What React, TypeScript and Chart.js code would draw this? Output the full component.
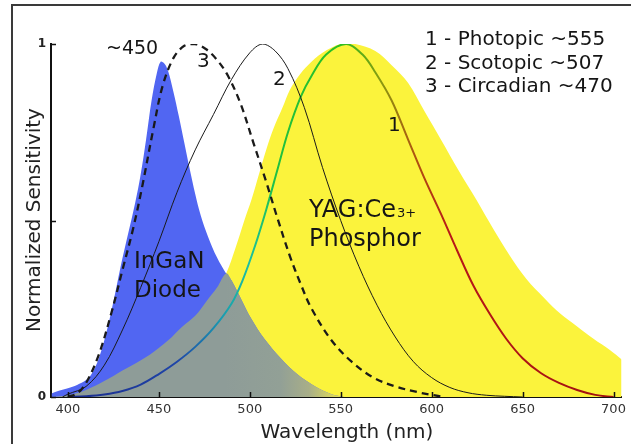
import React, { useEffect, useRef } from 'react';
import { Chart, registerables } from 'chart.js';

Chart.register(...registerables);

const FONT = "'DejaVu Sans', Verdana, sans-serif";

// axis ticks
const xTickValues = [400, 450, 500, 550, 600, 650, 700];
const yTickValues = [0, 0.5, 1];
const yTickLabels = ['0', '', '1'];

// YAG:Ce phosphor emission (yellow area)
const phosphorNm = [391, 400, 410, 420, 430, 445, 455, 463, 470, 476, 482, 487, 492, 497, 501, 505, 509, 513, 518, 522, 527, 532, 540, 550, 558, 569, 578, 587, 596, 605, 615, 625, 634, 643, 652, 662, 671, 680, 689, 698, 706];
const phosphorVal = [0.0, 0.005, 0.02, 0.045, 0.075, 0.12, 0.16, 0.2, 0.23, 0.27, 0.31, 0.35, 0.42, 0.5, 0.56, 0.63, 0.7, 0.76, 0.82, 0.87, 0.91, 0.94, 0.975, 1.0, 1.0, 0.98, 0.94, 0.89, 0.81, 0.73, 0.64, 0.555, 0.475, 0.4, 0.335, 0.28, 0.235, 0.2, 0.165, 0.133, 0.1];

// InGaN diode emission (blue area)
const diodeNm = [391, 395, 400, 405, 410, 413, 417, 421, 425, 429, 433, 437, 440, 443, 446, 449, 451, 453, 455, 458, 461, 464, 467, 470, 473, 477, 482, 487, 490, 495, 501, 508, 517, 526, 536, 545, 552];
const diodeVal = [0.01, 0.018, 0.025, 0.034, 0.048, 0.065, 0.11, 0.18, 0.27, 0.37, 0.46, 0.55, 0.63, 0.73, 0.84, 0.92, 0.95, 0.945, 0.925, 0.865, 0.795, 0.72, 0.645, 0.575, 0.515, 0.455, 0.395, 0.35, 0.33, 0.28, 0.22, 0.165, 0.11, 0.065, 0.03, 0.008, 0.0];

// overlap of diode and phosphor (grey area)
const overlapNm = [391, 400, 410, 420, 430, 445, 455, 463, 470, 476, 482, 487, 490, 495, 501, 508, 517, 526, 536, 545, 552];
const overlapVal = [0.0, 0.005, 0.02, 0.045, 0.075, 0.12, 0.16, 0.2, 0.23, 0.27, 0.31, 0.35, 0.33, 0.28, 0.22, 0.165, 0.11, 0.065, 0.03, 0.008, 0.0];

// 1 - Photopic
const photopicNm = [400, 410, 420, 430, 440, 450, 460, 470, 480, 490, 496, 503, 509, 515, 521, 528, 534, 542, 553, 562, 569, 578, 587, 596, 605, 614, 623, 632, 641, 650, 660, 670, 680, 690, 700];
const photopicVal = [0.0, 0.002, 0.007, 0.017, 0.035, 0.065, 0.1, 0.142, 0.195, 0.265, 0.33, 0.43, 0.53, 0.64, 0.75, 0.85, 0.91, 0.97, 1.0, 0.97, 0.92, 0.84, 0.73, 0.62, 0.52, 0.415, 0.315, 0.235, 0.165, 0.11, 0.068, 0.04, 0.02, 0.006, 0.0];

// 2 - Scotopic
const scotopicNm = [397, 400, 410, 420, 430, 440, 450, 460, 470, 480, 490, 500, 507, 514, 521, 530, 540, 550, 560, 570, 580, 590, 600, 610, 620, 630, 640, 650];
const scotopicVal = [0.0, 0.008, 0.03, 0.09, 0.19, 0.31, 0.44, 0.58, 0.7, 0.8, 0.9, 0.975, 1.0, 0.98, 0.93, 0.82, 0.65, 0.5, 0.37, 0.26, 0.17, 0.1, 0.055, 0.027, 0.012, 0.005, 0.002, 0.0];

// 3 - Circadian
const circadianNm = [400, 405, 410, 417, 424, 430, 436, 441, 447, 452, 458, 464, 470, 476, 482, 488, 495, 502, 509, 515, 522, 528, 534, 545, 556, 568, 580, 592, 600, 607];
const circadianVal = [0.0, 0.01, 0.04, 0.12, 0.24, 0.36, 0.48, 0.6, 0.76, 0.88, 0.96, 0.995, 1.0, 0.985, 0.955, 0.91, 0.83, 0.72, 0.61, 0.51, 0.4, 0.32, 0.25, 0.16, 0.1, 0.055, 0.03, 0.014, 0.006, 0.0];

// spectral colour stops of photopic curve (nm, colour)
const photopicStopNm = [400, 460, 485, 500, 515, 550, 572, 592, 610, 700];
const photopicStopColor = ['#1b2a8a', '#1f45a8', '#1a9cb0', '#1cc0a0', '#20c040', '#2cc020', '#8a9a10', '#b05010', '#b81818', '#a01010'];

const legendLines = ['1 - Photopic ~555', '2 - Scotopic ~507', '3 - Circadian ~470'];

const pts = (xs: number[], ys: number[]) => xs.map((x, i) => ({ x, y: ys[i] }));

const framePlugin = {
  id: 'frameAndText',
  beforeDraw(chart: any) {
    const ctx = chart.ctx;
    ctx.save();
    ctx.fillStyle = '#ffffff';
    ctx.fillRect(0, 0, chart.width, chart.height);
    ctx.strokeStyle = '#3a3a3a';
    ctx.lineWidth = 2;
    ctx.beginPath();
    ctx.moveTo(12, chart.height + 4);
    ctx.lineTo(12, 5);
    ctx.lineTo(chart.width + 4, 5);
    ctx.stroke();
    ctx.restore();
  },
  afterDraw(chart: any) {
    const { ctx, chartArea } = chart;
    const xs = chart.scales.x;
    const ys = chart.scales.y;
    ctx.save();
    // inward tick marks
    ctx.strokeStyle = '#111';
    ctx.lineWidth = 1.5;
    ctx.beginPath();
    xTickValues.forEach((v) => {
      const px = Math.round(xs.getPixelForValue(v)) + 0.5;
      ctx.moveTo(px, chartArea.bottom);
      ctx.lineTo(px, chartArea.bottom - 5);
    });
    yTickValues.forEach((v) => {
      const py = Math.round(ys.getPixelForValue(v)) + 0.5;
      ctx.moveTo(chartArea.left, py);
      ctx.lineTo(chartArea.left + 5, py);
    });
    ctx.stroke();

    ctx.fillStyle = '#151515';
    ctx.textBaseline = 'alphabetic';
    ctx.textAlign = 'left';
    // legend text
    ctx.font = `20px ${FONT}`;
    legendLines.forEach((t, i) => ctx.fillText(t, 425, 45 + i * 23.5));
    // curve labels
    ctx.font = `19px ${FONT}`;
    ctx.fillText('~450', 106, 54);
    ctx.font = `20px ${FONT}`;
    ctx.fillText('3', 197, 67);
    ctx.fillText('2', 273, 85);
    ctx.fillText('1', 388, 131);
    // InGaN Diode
    ctx.font = `23px ${FONT}`;
    ctx.fillText('InGaN', 134, 268);
    ctx.fillText('Diode', 134, 297);
    // YAG:Ce3+ Phosphor
    ctx.font = `24px ${FONT}`;
    ctx.fillText('YAG:Ce', 309, 217);
    const w = ctx.measureText('YAG:Ce').width;
    ctx.font = `13px ${FONT}`;
    ctx.fillText('3+', 309 + w + 1, 217);
    ctx.font = `24px ${FONT}`;
    ctx.fillText('Phosphor', 309, 246);
    // axis titles
    ctx.font = `20px ${FONT}`;
    ctx.fillStyle = '#222';
    ctx.textAlign = 'center';
    ctx.fillText('Wavelength (nm)', 347, 438);
    ctx.translate(40, 220);
    ctx.rotate(-Math.PI / 2);
    ctx.fillText('Normalized Sensitivity', 0, 0);
    ctx.restore();
  },
};

export default function App() {
  const ref = useRef<HTMLCanvasElement>(null);
  useEffect(() => {
    const canvas = ref.current;
    if (!canvas) return;

    const photopicColor = (c: any) => {
      const chart = c.chart;
      const ca = chart.chartArea;
      if (!ca) return '#22bb22';
      const xs = chart.scales.x;
      const x0 = xs.getPixelForValue(photopicStopNm[0]);
      const x1 = xs.getPixelForValue(photopicStopNm[photopicStopNm.length - 1]);
      const g = chart.ctx.createLinearGradient(x0, 0, x1, 0);
      photopicStopNm.forEach((nm, i) => {
        g.addColorStop((nm - photopicStopNm[0]) / (photopicStopNm[photopicStopNm.length - 1] - photopicStopNm[0]), photopicStopColor[i]);
      });
      return g;
    };

    const overlapColor = (c: any) => {
      const chart = c.chart;
      const ca = chart.chartArea;
      if (!ca) return '#8e9c98';
      const xs = chart.scales.x;
      const x0 = xs.getPixelForValue(486);
      const x1 = xs.getPixelForValue(548);
      const g = chart.ctx.createLinearGradient(x0, 0, x1, 0);
      g.addColorStop(0, '#8e9c98');
      g.addColorStop(0.5, '#92a096');
      g.addColorStop(0.75, '#a8ae88');
      g.addColorStop(1, '#e0dc58');
      return g;
    };

    const area = (data: any, color: any, order: number) => ({
      data,
      backgroundColor: color,
      borderWidth: 0,
      borderColor: 'rgba(0,0,0,0)',
      fill: 'origin',
      pointRadius: 0,
      tension: 0.35,
      order,
    });

    const line = (data: any, color: any, width: number, order: number, dash: number[] = []) => ({
      data,
      borderColor: color,
      borderWidth: width,
      borderDash: dash,
      fill: false,
      pointRadius: 0,
      tension: 0.35,
      order,
    });

    const chart = new Chart(canvas, {
      type: 'line',
      data: {
        datasets: [
          area(pts(phosphorNm, phosphorVal), '#fbf33c', 6),
          area(pts(diodeNm, diodeVal), '#5166f2', 5),
          area(pts(overlapNm, overlapVal), overlapColor, 4),
          line(pts(photopicNm, photopicVal), photopicColor, 2, 3),
          line(pts(scotopicNm, scotopicVal), '#1a1a1a', 1, 2),
          line(pts(circadianNm, circadianVal), '#1a1a1a', 2.3, 1, [7, 5]),
        ] as any,
      },
      options: {
        responsive: false,
        animation: false,
        devicePixelRatio: 1,
        layout: { padding: { left: 0, top: 44, right: 6, bottom: 0 } },
        plugins: {
          legend: { display: false },
          tooltip: { enabled: false },
          title: { display: false },
        },
        scales: {
          x: {
            type: 'linear',
            min: 390.7,
            max: 704.4,
            afterBuildTicks: (s: any) => {
              s.ticks = xTickValues.map((v) => ({ value: v }));
            },
            afterFit: (s: any) => {
              s.height = 47;
            },
            ticks: {
              autoSkip: false,
              maxRotation: 0,
              padding: 5,
              color: '#333',
              font: { family: FONT, size: 13 },
              callback: (v: any) => String(v),
            },
            grid: { display: false, drawTicks: false },
            border: { display: true, color: '#111', width: 2 },
          },
          y: {
            type: 'linear',
            min: 0,
            max: 1,
            afterBuildTicks: (s: any) => {
              s.ticks = yTickValues.map((v) => ({ value: v }));
            },
            afterFit: (s: any) => {
              s.width = 51;
            },
            ticks: {
              autoSkip: false,
              padding: 5,
              color: '#222',
              font: { family: FONT, size: 12, weight: 'bold' },
              callback: (_v: any, i: number) => yTickLabels[i],
            },
            grid: { display: false, drawTicks: false },
            border: { display: true, color: '#111', width: 2 },
          },
        },
      } as any,
      plugins: [framePlugin],
    });
    return () => chart.destroy();
  }, []);

  return (
    <div style={{ position: 'fixed', left: 0, top: 0, width: 631, height: 444, background: '#fff' }}>
      <canvas ref={ref} width={631} height={444} style={{ display: 'block', width: 631, height: 444 }} />
    </div>
  );
}
